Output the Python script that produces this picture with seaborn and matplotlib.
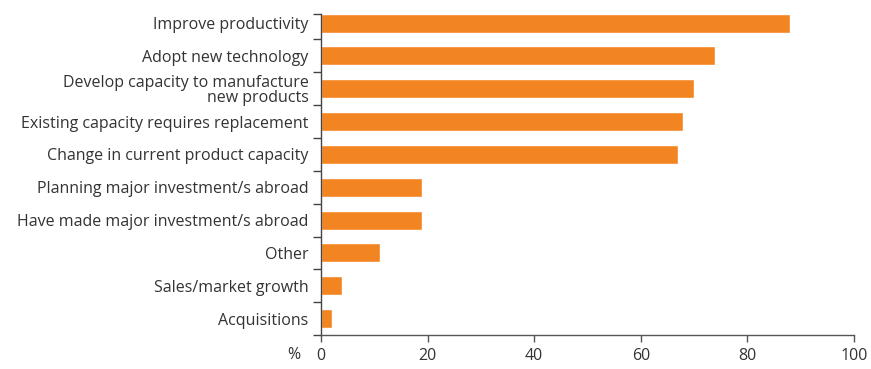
import numpy as np
import pandas as pd
import matplotlib
matplotlib.use("Agg")
import matplotlib.pyplot as plt
import seaborn as sns

categories = [
    "Improve productivity",
    "Adopt new technology",
    "Develop capacity to manufacture\nnew products",
    "Existing capacity requires replacement",
    "Change in current product capacity",
    "Planning major investment/s abroad",
    "Have made major investment/s abroad",
    "Other",
    "Sales/market growth",
    "Acquisitions",
]
values = [88, 74, 70, 68, 67, 19, 19, 11, 4, 2]
x_ticks = [0, 20, 40, 60, 80, 100]

df = pd.DataFrame({"reason": categories, "share": values})

sns.set_theme(style="white")
plt.rcParams["font.family"] = ["Open Sans", "DejaVu Sans"]

text_color = "#333333"
bar_color = "#F38422"

fig = plt.figure(figsize=(8.71, 3.69), dpi=100)
ax = fig.add_axes([0.3685, 0.092, 0.612, 0.890])

sns.barplot(data=df, x="share", y="reason", orient="h", color=bar_color,
            width=0.58, saturation=1, ax=ax)

ax.set_xlim(0, 100)
ax.set_ylim(len(categories) - 0.5, -0.5)
ax.set_xticks(x_ticks)
ax.set_xticklabels([str(t) for t in x_ticks])
ax.set_xlabel("")
ax.set_ylabel("")

for side in ["top", "right"]:
    ax.spines[side].set_visible(False)
ax.spines["left"].set_color("#444444")
ax.spines["left"].set_linewidth(1.0)
ax.spines["left"].set_bounds(len(categories) - 0.5, -0.28)
ax.spines["bottom"].set_color("#555555")
ax.spines["bottom"].set_linewidth(1.0)

# category boundaries as small outward ticks on the left spine
boundaries = list(np.arange(0.5, len(categories) - 0.5 + 0.01, 1.0)) + [-0.28]
ax.set_yticks(boundaries, minor=True)
ax.tick_params(axis="y", which="minor", direction="out", length=6,
               width=1.0, color="#444444", left=True)
ax.tick_params(axis="y", which="major", length=0, pad=9,
               labelsize=11.5, labelcolor=text_color)
ax.tick_params(axis="x", which="major", direction="out", length=5,
               width=1.0, color="#555555", bottom=True, pad=4,
               labelsize=11.5, labelcolor=text_color)

for lbl in ax.get_yticklabels():
    lbl.set_horizontalalignment("right")
    lbl.set_multialignment("right")
    lbl.set_linespacing(0.95)

ax.text(-5, -0.035, "%", transform=ax.get_xaxis_transform(),
        ha="center", va="top", fontsize=11.5, color=text_color)

fig.savefig("out.png", dpi=100)
